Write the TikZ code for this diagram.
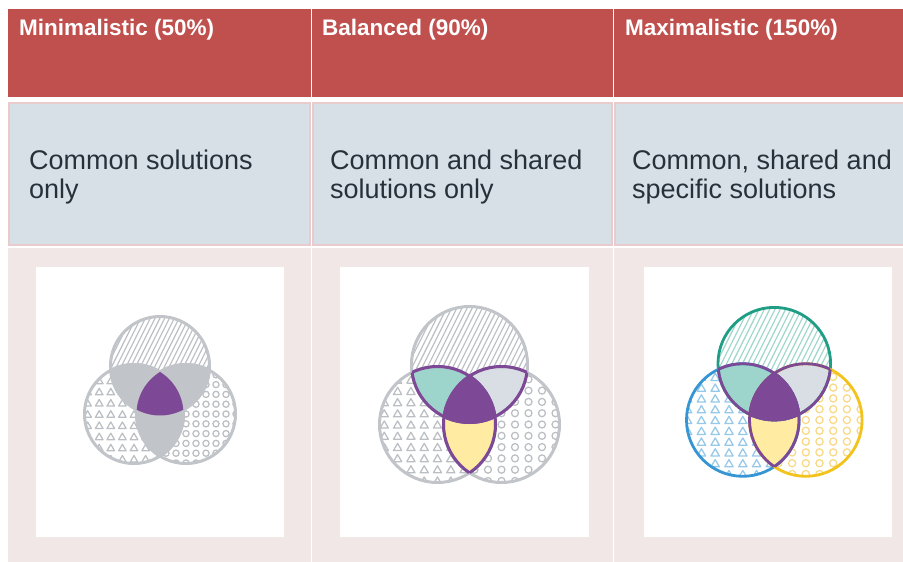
\documentclass[tikz,border=0pt]{standalone}
\usepackage{fontspec}
\setmainfont{Liberation Sans}

\definecolor{hdrred}{HTML}{C0504D}
\definecolor{rowblue}{HTML}{D8E0E7}
\definecolor{rowpink}{HTML}{EACBCD}
\definecolor{rowrose}{HTML}{F2E7E7}
\definecolor{desctext}{HTML}{27313A}
\definecolor{vgray}{HTML}{C1C5C9}
\definecolor{pgray}{HTML}{BBBFC3}
\definecolor{vpurple}{HTML}{7D4896}
\definecolor{vteal}{HTML}{9DD4CB}
\definecolor{vslate}{HTML}{D9DEE5}
\definecolor{vyellow}{HTML}{FFEBA1}
\definecolor{vgreen}{HTML}{1F9E85}
\definecolor{vblue}{HTML}{3596D3}
\definecolor{vgold}{HTML}{F2C31C}
\definecolor{lteal}{HTML}{9ED6CB}
\definecolor{lblue}{HTML}{96C8E9}
\definecolor{lgold}{HTML}{F7D987}

% three-set diagram: #1 top, #2 left, #3 right centre, #4 radius
\newcommand\threeset[4]{%
  % diagonal hatching in the top set
  \begin{scope}[shift={(#1)}]
    \clip (0,0) circle[radius=#4];
    \foreach \k in {-22,...,22}
      \draw[hatchc, line width=1.15] (\k*\hs-0.5*#4, #4) -- (\k*\hs+0.5*#4, -#4);
  \end{scope}
  % triangles in the left set
  \begin{scope}[shift={(#2)}]
    \clip (0,0) circle[radius=#4];
    \foreach \i in {-6,...,6}
      \foreach \j in {-7,...,7}
        \draw[tric, line width=1.25, line join=round]
          (\i*\tsx-0.5*\tsz, \j*\tsy+0.43*\tsz) -- (\i*\tsx+0.5*\tsz, \j*\tsy+0.43*\tsz)
          -- (\i*\tsx, \j*\tsy-0.43*\tsz) -- cycle;
  \end{scope}
  % rings in the right set
  \begin{scope}[shift={(#3)}]
    \clip (0,0) circle[radius=#4];
    \foreach \i in {-7,...,7}
      \foreach \j in {-7,...,7}
        \draw[ringc, line width=1.25] (\i*\csx, \j*\csy) circle[radius=\crr];
  \end{scope}
  % pairwise overlaps
  \begin{scope}\clip (#1) circle[radius=#4]; \fill[lensTL] (#2) circle[radius=#4];\end{scope}
  \begin{scope}\clip (#1) circle[radius=#4]; \fill[lensTR] (#3) circle[radius=#4];\end{scope}
  \begin{scope}\clip (#2) circle[radius=#4]; \fill[lensLR] (#3) circle[radius=#4];\end{scope}
  % outlines
  \draw[topc, line width=\olw] (#1) circle[radius=#4];
  \draw[leftc, line width=\olw] (#2) circle[radius=#4];
  \draw[rightc, line width=\olw] (#3) circle[radius=#4];
  % inner arcs
  \begin{scope}\clip (#2) circle[radius=#4]; \draw[innerc, line width=\olw] (#1) circle[radius=#4];\end{scope}
  \begin{scope}\clip (#3) circle[radius=#4]; \draw[innerc, line width=\olw] (#1) circle[radius=#4];\end{scope}
  \begin{scope}\clip (#1) circle[radius=#4]; \draw[innerc, line width=\olw] (#2) circle[radius=#4];\end{scope}
  \begin{scope}\clip (#3) circle[radius=#4]; \draw[innerc, line width=\olw] (#2) circle[radius=#4];\end{scope}
  \begin{scope}\clip (#1) circle[radius=#4]; \draw[innerc, line width=\olw] (#3) circle[radius=#4];\end{scope}
  \begin{scope}\clip (#2) circle[radius=#4]; \draw[innerc, line width=\olw] (#3) circle[radius=#4];\end{scope}
  % common core
  \begin{scope}
    \clip (#1) circle[radius=#4];
    \clip (#2) circle[radius=#4];
    \fill[vpurple] (#3) circle[radius=#4];
  \end{scope}
}

\tikzset{
  hdr/.style={anchor=base west, inner sep=0pt, text=white,
    font=\fontsize{22.5}{26}\selectfont\bfseries},
  desc/.style={anchor=north west, inner sep=0pt, align=left, text=desctext,
    font=\fontsize{27}{29.5}\selectfont},
  headcell/.style={fill=hdrred},
  textcell/.style={fill=rowblue, draw=rowpink, line width=2pt},
  piccell/.style={fill=rowrose},
  picframe/.style={fill=white}
}

\begin{document}
\begin{tikzpicture}[x=1pt, y=-1pt]
\useasboundingbox[fill=white] (0,0) rectangle (903,562);

% header row
\path[headcell] (8,9) rectangle (310.5,97);
\path[headcell] (312,9) rectangle (612.5,97);
\path[headcell] (614,9) rectangle (903,97);
\node[hdr] (h1) at (19,35) {Minimalistic (50\%)};
\node[hdr] (h2) at (322,35) {Balanced (90\%)};
\node[hdr] (h3) at (625,35) {Maximalistic (150\%)};

% description row
\path[textcell] (9,103) rectangle (309.5,244.5);
\path[textcell] (313,103) rectangle (611.5,244.5);
\path[textcell] (615,103) rectangle (905,244.5);
\node[desc] (d1) at (29,149.5) {Common solutions\\only};
\node[desc] (d2) at (330,149.5) {Common and shared\\solutions only};
\node[desc] (d3) at (632,149.5) {Common, shared and\\specific solutions};

% picture row
\path[piccell] (8,247.5) rectangle (310.5,562);
\path[piccell] (312,247.5) rectangle (612.5,562);
\path[piccell] (614,247.5) rectangle (903,562);
\path[picframe] (36,267) rectangle (284,537);
\path[picframe] (340,267) rectangle (589,537);
\path[picframe] (644,267) rectangle (892,537);

% minimalistic
\coordinate (aT) at (160,366);
\coordinate (aL) at (134,414);
\coordinate (aR) at (186,414);
\begingroup
\def\hs{4.8}\def\tsx{11.6}\def\tsy{11.2}\def\tsz{7.6}
\def\csx{10}\def\csy{9.8}\def\crr{3.1}\def\olw{3pt}
\colorlet{hatchc}{pgray}\colorlet{tric}{pgray}\colorlet{ringc}{pgray}
\colorlet{lensTL}{vgray}\colorlet{lensTR}{vgray}\colorlet{lensLR}{vgray}
\colorlet{topc}{vgray}\colorlet{leftc}{vgray}\colorlet{rightc}{vgray}
\colorlet{innerc}{vgray}
\threeset{aT}{aL}{aR}{49.5}
\endgroup

% balanced
\coordinate (bT) at (469.5,364.5);
\coordinate (bL) at (437.5,424.5);
\coordinate (bR) at (501.5,424.5);
\begingroup
\def\hs{5.1}\def\tsx{13.3}\def\tsy{11.2}\def\tsz{8.2}
\def\csx{13.5}\def\csy{11.3}\def\crr{3.5}\def\olw{3pt}
\colorlet{hatchc}{pgray}\colorlet{tric}{pgray}\colorlet{ringc}{pgray}
\colorlet{lensTL}{vteal}\colorlet{lensTR}{vslate}\colorlet{lensLR}{vyellow}
\colorlet{topc}{vgray}\colorlet{leftc}{vgray}\colorlet{rightc}{vgray}
\colorlet{innerc}{vpurple}
\threeset{bT}{bL}{bR}{58}
\endgroup

% maximalistic
\coordinate (cT) at (774.3,363.7);
\coordinate (cL) at (742.8,420);
\coordinate (cR) at (805.8,420);
\begingroup
\def\hs{5.3}\def\tsx{13.8}\def\tsy{10.8}\def\tsz{8.4}
\def\csx{13.7}\def\csy{10.8}\def\crr{3.6}\def\olw{2.8pt}
\colorlet{hatchc}{lteal}\colorlet{tric}{lblue}\colorlet{ringc}{lgold}
\colorlet{lensTL}{vteal}\colorlet{lensTR}{vslate}\colorlet{lensLR}{vyellow}
\colorlet{topc}{vgreen}\colorlet{leftc}{vblue}\colorlet{rightc}{vgold}
\colorlet{innerc}{vpurple}
\threeset{cT}{cL}{cR}{56.3}
\endgroup

\end{tikzpicture}
\end{document}
